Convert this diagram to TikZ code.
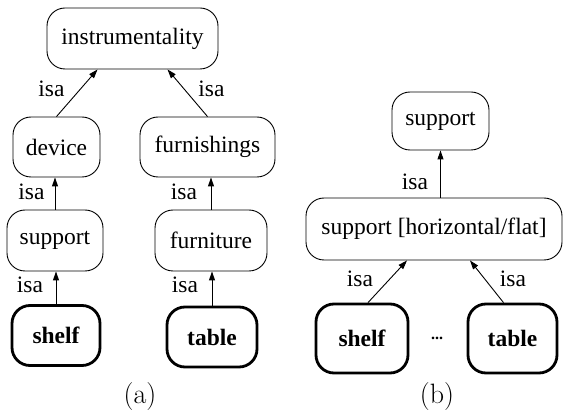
\documentclass[tikz,border=0pt]{standalone}
\usepackage{fontspec}
\setmainfont{Liberation Serif}
\newfontfamily\lmr{Latin Modern Roman}
\usetikzlibrary{arrows.meta,calc}
\begin{document}
\begin{tikzpicture}[x=1pt,y=-1pt,
  box/.style={draw,rounded corners=18pt,line width=0.9pt,inner sep=0pt,font=\rmfamily\fontsize{23.5}{26}\selectfont},
  leaf/.style={box,line width=2.8pt,font=\rmfamily\bfseries\fontsize{23.5}{26}\selectfont},
  lab/.style={anchor=base,inner sep=0pt,font=\rmfamily\fontsize{23.5}{26}\selectfont},
  captext/.style={inner sep=0pt,font=\lmr\fontsize{28}{30}\selectfont},
  isa/.style={line width=0.9pt,-{Triangle[length=9pt,width=6pt]}}]
\useasboundingbox (0,0) rectangle (563,414);
% (a)
\node[box,minimum width=171pt,minimum height=61pt] (inst) at (132.5,38.5) {instrumentality};
\node[box,minimum width=87pt,minimum height=60pt] (dev) at (56.5,147) {device};
\node[box,minimum width=135pt,minimum height=60pt] (furn) at (207.5,147) {furnishings};
\node[box,minimum width=96pt,minimum height=61pt] (supA) at (55,240.5) {support};
\node[box,minimum width=112pt,minimum height=61pt] (furni) at (211,240.5) {furniture};
\node[leaf,minimum width=88pt,minimum height=60pt] (shelfA) at (56,335.5) {shelf};
\node[leaf,minimum width=90pt,minimum height=60pt] (tableA) at (212,337) {table};
\draw[isa] (dev.north) -- ($(inst.south)+(-35,0)$);
\draw[isa] (furn.north) -- ($(inst.south)+(35,0)$);
\draw[isa] (supA.north) -- (supA.north |- dev.south);
\draw[isa] (furni.north) -- (furni.north |- furn.south);
\draw[isa] (shelfA.north) -- (shelfA.north |- supA.south);
\draw[isa] (tableA.north) -- (tableA.north |- furni.south);
\node[lab] (l1) at (51.5,97) {isa};
\node[lab] (l2) at (211.5,97) {isa};
\node[lab] (l3) at (31.5,200) {isa};
\node[lab] (l4) at (184,200) {isa};
\node[lab] (l5) at (30,293) {isa};
\node[lab] (l6) at (185,293) {isa};
\node[captext] (capa) at (140,397) {(a)};
% (b)
\node[box,minimum width=97pt,minimum height=58pt] (supB) at (440.5,121) {support};
\node[box,minimum width=256pt,minimum height=62pt] (suphf) at (434,229) {support [horizontal/flat]};
\node[leaf,minimum width=92pt,minimum height=69pt] (shelfB) at (362,338.5) {shelf};
\node[leaf,minimum width=89pt,minimum height=69pt] (tableB) at (512.5,338.5) {table};
\node[inner sep=0pt,font=\rmfamily\bfseries\fontsize{16}{18}\selectfont] (dots) at (437,338) {...};
\draw[isa] (supB.south |- suphf.north) -- (supB.south);
\draw[isa] ($(shelfB.north)+(6,0)$) -- ($(suphf.south)+(-27,0)$);
\draw[isa] ($(tableB.north)+(-9,0)$) -- ($(suphf.south)+(36,0)$);
\node[lab] (l7) at (415,190) {isa};
\node[lab] (l8) at (360,287) {isa};
\node[lab] (l9) at (513,287) {isa};
\node[captext] (capb) at (437,397) {(b)};
\end{tikzpicture}
\end{document}
